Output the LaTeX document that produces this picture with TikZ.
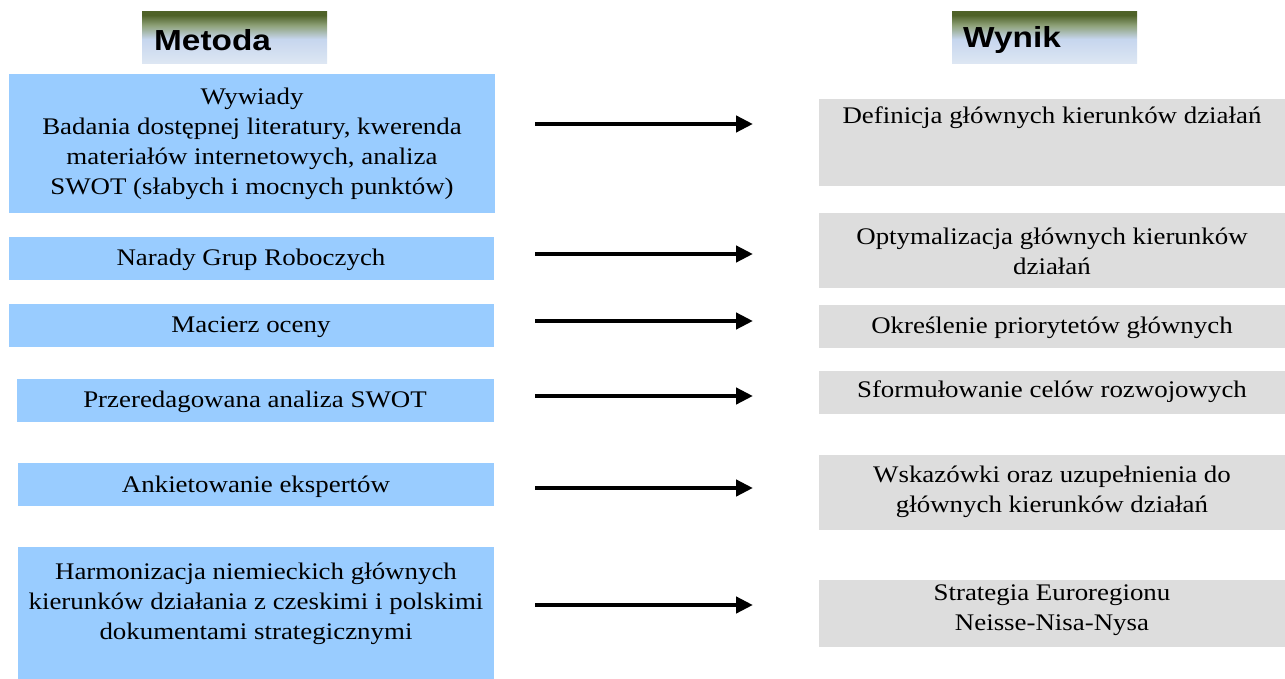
\documentclass[tikz,border=0pt]{standalone}
\usepackage{fontspec}
\setmainfont[FakeStretch=1.13]{Liberation Serif}
\newfontfamily\hdrfont[FakeStretch=1.15]{Liberation Sans}
\usetikzlibrary{arrows.meta}
\definecolor{methfill}{HTML}{99CCFF}
\definecolor{resfill}{HTML}{DDDDDD}
\definecolor{hdrtop}{HTML}{4F6228}
\definecolor{hdrgreen}{HTML}{8FA27A}
\definecolor{hdrmid}{HTML}{C6D6EE}
\definecolor{hdrbot}{HTML}{DEE7F3}
\pgfdeclareverticalshading{hdrshade}{100bp}{color(0bp)=(hdrbot); color(25bp)=(hdrbot); color(49bp)=(hdrmid); color(62bp)=(hdrgreen); color(72bp)=(hdrtop); color(100bp)=(hdrtop)}
\tikzset{
  methbox/.style={fill=methfill, draw=none, inner sep=0pt},
  resbox/.style={fill=resfill, draw=none, inner sep=0pt},
  hdrbox/.style={shading=hdrshade, draw=none, inner sep=0pt},
  boxtext/.style={font=\fontsize{23.8}{30}\selectfont, align=center, inner sep=0pt},
  hdrtext/.style={font=\hdrfont\bfseries\fontsize{29}{34}\selectfont, inner sep=0pt, anchor=west},
  flow/.style={line width=4.5pt, -{Triangle[length=17pt,width=16pt]}}
}
\begin{document}
\begin{tikzpicture}[x=1pt,y=-1pt]
\useasboundingbox (0,0) rectangle (1285,679);
% headers
\path[hdrbox] (142,12) rectangle (327,64);
\node[hdrtext] (hm) at (154,40) {Metoda};
\path[hdrbox] (952,12) rectangle (1137,64);
\node[hdrtext] (hw) at (963,40) {Wynik};
% method boxes
\path[methbox] (9,74) rectangle (495,213);
\node[boxtext] (m1) at (252,144) {Wywiady\\Badania dostępnej literatury, kwerenda\\materiałów internetowych, analiza\\SWOT (słabych i mocnych punktów)};
\path[methbox] (9,237) rectangle (494,280);
\node[boxtext] (m2) at (251,260) {Narady Grup Roboczych};
\path[methbox] (9,304) rectangle (494,347);
\node[boxtext] (m3) at (251,327) {Macierz oceny};
\path[methbox] (17,379) rectangle (494,422);
\node[boxtext] (m4) at (255,402) {Przeredagowana analiza SWOT};
\path[methbox] (18,463) rectangle (494,506);
\node[boxtext] (m5) at (256,487) {Ankietowanie ekspertów};
\path[methbox] (18,547) rectangle (494,679);
\node[boxtext] (m6) at (256,604) {Harmonizacja niemieckich głównych\\kierunków działania z czeskimi i polskimi\\dokumentami strategicznymi};
% result boxes
\path[resbox] (819,99) rectangle (1285,186);
\node[boxtext] (r1) at (1052,118) {Definicja głównych kierunków działań};
\path[resbox] (819,213) rectangle (1285,288);
\node[boxtext] (r2) at (1052,251) {Optymalizacja głównych kierunków\\działań};
\path[resbox] (819,305) rectangle (1285,348);
\node[boxtext] (r3) at (1052,328) {Określenie priorytetów głównych};
\path[resbox] (819,371) rectangle (1285,414);
\node[boxtext] (r4) at (1052,392) {Sformułowanie celów rozwojowych};
\path[resbox] (819,455) rectangle (1285,530);
\node[boxtext] (r5) at (1052,492) {Wskazówki oraz uzupełnienia do\\głównych kierunków działań};
\path[resbox] (819,580) rectangle (1285,647);
\node[boxtext] (r6) at (1052,610) {Strategia Euroregionu\\Neisse-Nisa-Nysa};
% arrows
\foreach \i/\y in {1/124,2/254,3/321,4/396,5/488,6/605}{
  \coordinate (a\i) at (535,\y);
  \coordinate (b\i) at (753,\y);
  \draw[flow] (a\i) -- (b\i);
}
\end{tikzpicture}
\end{document}
